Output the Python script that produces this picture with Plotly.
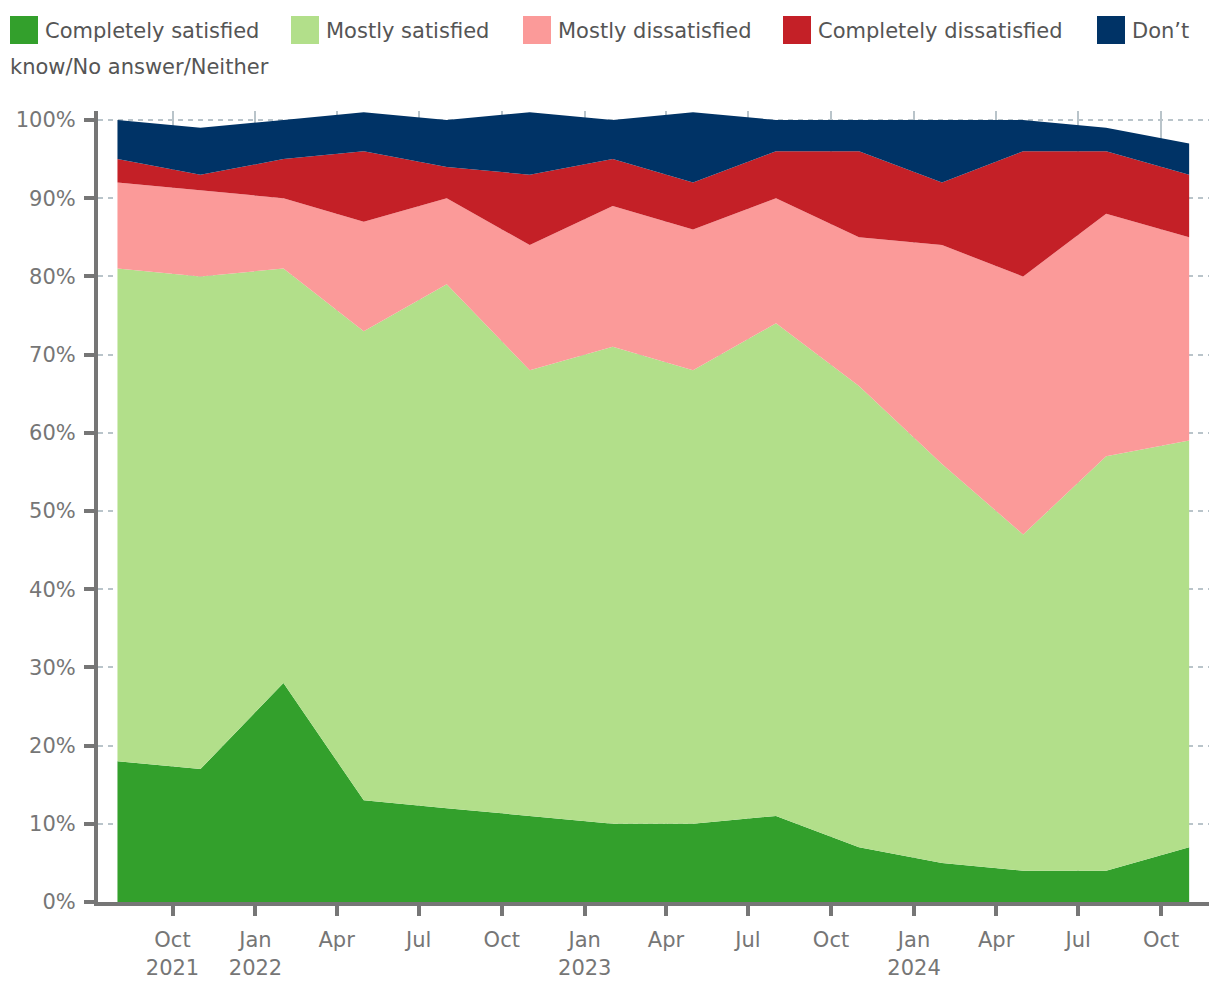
import plotly.graph_objects as go

# ---- data ----
dates = ["2021-08-01", "2021-11-01", "2022-02-01", "2022-05-01", "2022-08-01",
         "2022-11-01", "2023-02-01", "2023-05-01", "2023-08-01", "2023-11-01",
         "2024-02-01", "2024-05-01", "2024-08-01", "2024-11-01"]
completely_satisfied = [18, 17, 28, 13, 12, 11, 10, 10, 11, 7, 5, 4, 4, 7]
mostly_satisfied = [63, 63, 53, 60, 67, 57, 61, 58, 63, 59, 51, 43, 53, 52]
mostly_dissatisfied = [11, 11, 9, 14, 11, 16, 18, 18, 16, 19, 28, 33, 31, 26]
completely_dissatisfied = [3, 2, 5, 9, 4, 9, 6, 6, 6, 11, 8, 16, 8, 8]
dont_know = [5, 6, 5, 5, 6, 8, 5, 9, 4, 4, 8, 4, 3, 4]

series_names = ["Completely satisfied", "Mostly satisfied", "Mostly dissatisfied",
                "Completely dissatisfied", "Don’t know/No answer/Neither"]
series_values = [completely_satisfied, mostly_satisfied, mostly_dissatisfied,
                 completely_dissatisfied, dont_know]
colors = ["#33a02c", "#b2df8a", "#fb9a99", "#c42027", "#003366"]

x_tickvals = ["2021-10-01", "2022-01-01", "2022-04-01", "2022-07-01", "2022-10-01",
              "2023-01-01", "2023-04-01", "2023-07-01", "2023-10-01", "2024-01-01",
              "2024-04-01", "2024-07-01", "2024-10-01"]
x_ticktext = ["Oct<br>2021", "Jan<br>2022", "Apr", "Jul", "Oct", "Jan<br>2023", "Apr",
              "Jul", "Oct", "Jan<br>2024", "Apr", "Jul", "Oct"]
y_tickvals = [0, 10, 20, 30, 40, 50, 60, 70, 80, 90, 100]
y_ticktext = ["0%", "10%", "20%", "30%", "40%", "50%", "60%", "70%", "80%", "90%", "100%"]

FONT = "DejaVu Sans"
AXIS_COLOR = "#767676"
GRID_COLOR = "#b9c4ca"
TEXT_COLOR = "#555555"

fig = go.Figure()
for name, vals, col in zip(series_names, series_values, colors):
    fig.add_trace(go.Scatter(
        x=dates, y=vals, name=name, stackgroup="one", mode="lines",
        line=dict(width=0, color=col), fillcolor=col, showlegend=False,
        hovertemplate="%{y}%<extra>" + name + "</extra>",
    ))

W, H = 1220, 992
ML, MR, MT, MB = 98, 11, 111, 90
PW, PH = W - ML - MR, H - MT - MB


def px(x):
    return (x - ML) / PW


def py(y):
    return (H - MB - y) / PH


# manual legend (wrapping like the original)
legend_items = [
    (10, "Completely satisfied"),
    (291, "Mostly satisfied"),
    (523, "Mostly dissatisfied"),
    (783, "Completely dissatisfied"),
    (1097, "Don’t"),
]
shapes = []
annotations = []
for (x0, label), col in zip(legend_items, colors):
    shapes.append(dict(type="rect", xref="paper", yref="paper",
                       x0=px(x0), x1=px(x0 + 28), y0=py(44), y1=py(16),
                       fillcolor=col, line=dict(width=0)))
    annotations.append(dict(text=label, xref="paper", yref="paper",
                            x=px(x0 + 33), y=py(31), xanchor="left", yanchor="middle",
                            showarrow=False, font=dict(family=FONT, size=21, color=TEXT_COLOR)))
annotations.append(dict(text="know/No answer/Neither", xref="paper", yref="paper",
                        x=px(8), y=py(67), xanchor="left", yanchor="middle",
                        showarrow=False, font=dict(family=FONT, size=21, color=TEXT_COLOR)))

fig.update_layout(
    width=W, height=H,
    margin=dict(l=ML, r=MR, t=MT, b=MB, pad=0),
    plot_bgcolor="white", paper_bgcolor="white",
    font=dict(family=FONT, size=21, color=AXIS_COLOR),
    showlegend=False,
    shapes=shapes, annotations=annotations,
    xaxis=dict(
        type="date", range=["2021-07-10 10:00", "2024-11-23"],
        tickvals=x_tickvals, ticktext=x_ticktext,
        showline=True, linewidth=4, linecolor=AXIS_COLOR,
        ticks="outside", ticklen=10, tickwidth=4, tickcolor=AXIS_COLOR,
        ticklabelstandoff=6,
        showgrid=True, gridcolor=GRID_COLOR, gridwidth=2,
        zeroline=False, tickfont=dict(family=FONT, size=21, color=AXIS_COLOR),
    ),
    yaxis=dict(
        range=[0, 101.15], tickvals=y_tickvals, ticktext=y_ticktext,
        showline=True, linewidth=4, linecolor=AXIS_COLOR,
        ticks="outside", ticklen=10, tickwidth=4, tickcolor=AXIS_COLOR,
        ticklabelstandoff=4,
        showgrid=True, gridcolor=GRID_COLOR, gridwidth=2, griddash="5px,5px",
        zeroline=False, tickfont=dict(family=FONT, size=21, color=AXIS_COLOR),
    ),
)

fig.write_html("out.html", config={"displayModeBar": False},
               post_script="document.body.style.margin='0';")
